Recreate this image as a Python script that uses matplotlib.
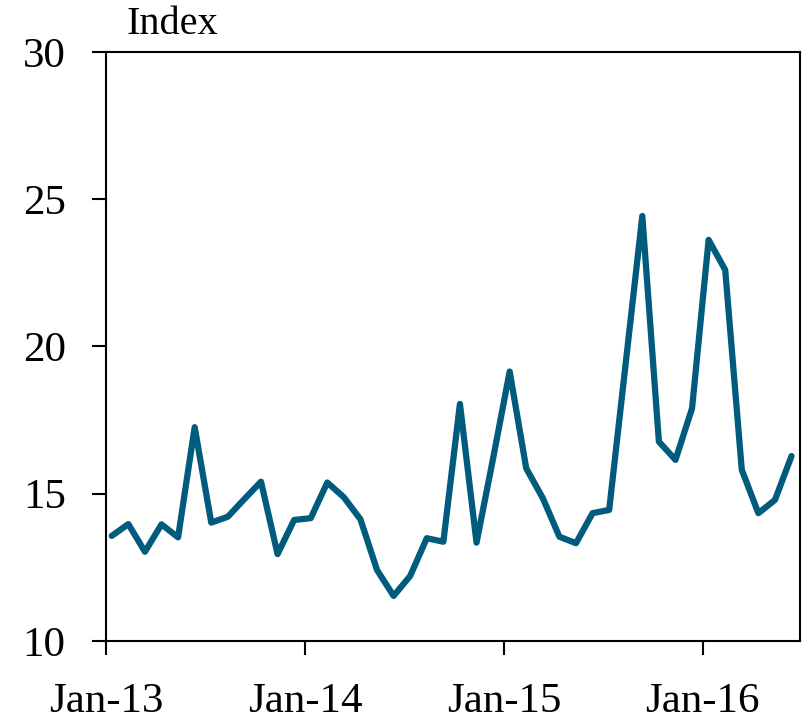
import matplotlib
matplotlib.use("Agg")
import matplotlib.pyplot as plt
import numpy as np

# Monthly index values, Jan-13 .. Jun-16
months = list(range(42))
values = [13.57, 13.97, 13.03, 13.96, 13.52, 17.26, 14.02, 14.22, 14.82, 15.41, 12.95, 14.11,
          14.17, 15.38, 14.88, 14.13, 12.41, 11.53, 12.21, 13.49, 13.37, 18.05, 13.34, 16.20,
          19.15, 15.86, 14.85, 13.54, 13.32, 14.34, 14.45, 19.44, 24.43, 16.77, 16.15, 17.90,
          23.62, 22.60, 15.81, 14.34, 14.79, 16.28]
xtick_pos = [0, 12, 24, 36]
xtick_labels = ["Jan-13", "Jan-14", "Jan-15", "Jan-16"]
yticks = [10, 15, 20, 25, 30]

plt.rcParams['font.family'] = ['Liberation Serif', 'DejaVu Serif']

fig = plt.figure(figsize=(8.04, 7.22), dpi=100)
ax = fig.add_axes([0.1318, 0.1122, 0.863, 0.8158])

x = np.array(months) + 0.35
ax.plot(x, values, color="#005B7D", linewidth=4.5, solid_joinstyle="round",
        solid_capstyle="round")

ax.set_xlim(0, 41.85)
ax.set_ylim(10, 30)
ax.set_xticks(xtick_pos)
ax.set_xticklabels(xtick_labels)
ax.set_yticks(yticks)

for s in ax.spines.values():
    s.set_linewidth(1.5)
    s.set_color("black")

ax.tick_params(axis="both", direction="out", length=10, width=1.5, labelsize=31, colors="black")
ax.tick_params(axis="y", pad=19)
ax.tick_params(axis="x", pad=20)

fig.text(127/804, 1 - 25/722, "Index", fontsize=29, ha="left", va="center")

fig.savefig("out.png", dpi=100)
